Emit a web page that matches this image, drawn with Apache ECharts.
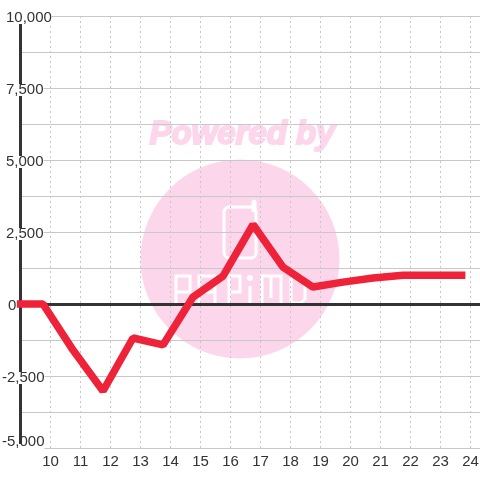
<!DOCTYPE html>
<html><head><meta charset="utf-8">
<style>html,body{margin:0;padding:0;background:#fff}#c{width:480px;height:480px}</style>
<script src="https://cdn.jsdelivr.net/npm/echarts@6/dist/echarts.min.js"></script>
</head><body><div id="c"></div>
<script>
var hours = [8.88, 9.75, 10.75, 11.75, 12.75, 13.75, 14.75, 15.75, 16.75, 17.75, 18.75, 19.75, 20.75, 21.75, 22.75, 23.83];
var values = [0, 0, -1600, -3020, -1180, -1420, 240, 970, 2760, 1280, 590, 760, 900, 1000, 1000, 1000];
var xTicks = [10,11,12,13,14,15,16,17,18,19,20,21,22,23,24];
var yTickText = {'10000':'10,000','7500':'7,500','5000':'5,000','2500':'2,500','0':'0','-2500':'-2,500','-5000':'-5,000'};
var lineColor = '#ee2238', pink = '#fcd7ec', dark = '#333333', gridC = '#c8c8c8';
var W = '#ffffff';
function stroke(points){ return {type:'polyline', z:-1, shape:{points:points}, style:{fill:'none',stroke:W,lineWidth:3}}; }
var chart = echarts.init(document.getElementById('c'), null, {renderer:'canvas'});
chart.setOption({
  animation:false,
  backgroundColor:'#fff',
  textStyle:{fontFamily:'Liberation Sans'},
  grid:[
    {left:20.5,right:0,top:16,bottom:32,containLabel:false,outerBoundsMode:'none'},
    {left:20.5,right:0,top:18,bottom:30,containLabel:false,outerBoundsMode:'none'}
  ],
  graphic:{elements:[
    {type:'circle',z:-2,shape:{cx:240,cy:259,r:99.5},style:{fill:pink}},
    {type:'text',z:-2,x:242,y:135,style:{text:'Powered by',fill:pink,stroke:pink,lineWidth:2,font:'italic bold 33px "Liberation Sans"',align:'center',verticalAlign:'middle'}},
    {type:'rect',z:-1,shape:{x:224,y:207,width:32,height:51,r:5},style:{fill:'none',stroke:W,lineWidth:3}},
    {type:'rect',z:-1,shape:{x:252,y:200,width:4,height:12,r:2},style:{fill:W,stroke:W,lineWidth:1}},
    stroke([[176,303],[176,276],[190,276],[190,292],[176,292]]),
    stroke([[199,303],[199,276],[215,276],[215,303]]),
    stroke([[199,292],[215,292]]),
    stroke([[229,303],[229,276],[240,276],[240,292],[229,292]]),
    stroke([[250,303],[250,286]]),
    {type:'circle',z:-1,shape:{cx:250,cy:278,r:3},style:{fill:W}},
    stroke([[262,303],[262,276],[281,276],[281,303]]),
    stroke([[271,276],[271,298]]),
    stroke([[291,276],[301,276],[305,280],[305,299],[301,303],[291,303],[291,276]])
  ]},
  xAxis:[{
    type:'value',gridIndex:0,min:9,max:24.3167,interval:1,
    axisLine:{show:false,onZero:false},axisTick:{show:false},
    axisLabel:{fontSize:15,color:'#333',margin:6,showMinLabel:false,showMaxLabel:false,
      formatter:function(v){return xTicks.indexOf(v)>=0?String(v):'';}},
    splitLine:{show:true,lineStyle:{color:gridC,type:[2,3],width:1}}
  },{
    type:'value',gridIndex:0,min:9,max:24.3167,interval:1,position:'bottom',z:1,
    axisLine:{show:true,onZero:true,lineStyle:{color:dark,width:3}},
    axisTick:{show:false},axisLabel:{show:false},splitLine:{show:false}
  },{
    type:'value',gridIndex:1,min:9,max:24.3167,show:false
  }],
  yAxis:[{
    type:'value',gridIndex:0,min:-5000,max:10000,interval:2500,z:1,
    axisLine:{show:true,onZero:false,lineStyle:{color:dark,width:3}},
    axisTick:{show:false},axisLabel:{show:false},
    minorTick:{show:false,splitNumber:2},
    minorSplitLine:{show:true,lineStyle:{color:gridC,width:1}},
    splitLine:{show:true,lineStyle:{color:gridC,width:1}}
  },{
    type:'value',gridIndex:1,min:-5000,max:10000,interval:2500,z:3,
    axisLine:{show:false,onZero:false},axisTick:{show:false},splitLine:{show:false},
    axisLabel:{
      align:'left',margin:18.5,color:'#333',fontSize:15,
      backgroundColor:'#fff',
      formatter:function(v){
        var text = yTickText[String(v)];
        if (v===-5000) return '{n|'+text+'}';
        var pad = v<0?'':(v===0?'{z|}':'{p|}');
        return pad+'{t|'+text+'}';
      },
      rich:{
        p:{width:4,height:12},z:{width:6,height:12},
        t:{fontSize:15,color:'#333',height:12,lineHeight:12},
        n:{fontSize:15,color:'#333',height:12,lineHeight:12,padding:[0,0,16,0]}
      }
    }
  }],
  series:[{
    type:'line',xAxisIndex:0,yAxisIndex:0,data:hours.map(function(h,i){return [h,values[i]];}),
    clip:false,symbol:'none',z:5,smooth:false,
    lineStyle:{color:lineColor,width:7.5,cap:'butt',join:'bevel'}
  }]
});
</script></body></html>
